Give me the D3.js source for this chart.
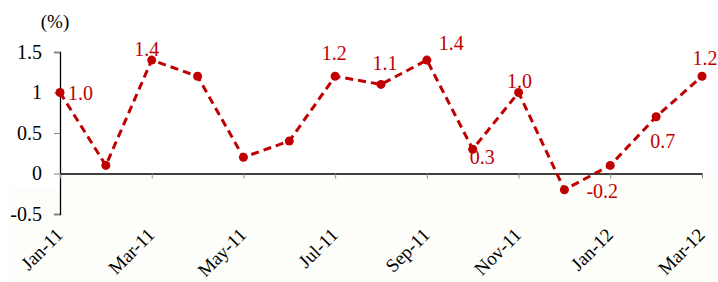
<!DOCTYPE html>
<html>
<head>
<meta charset="utf-8">
<script src="https://cdn.jsdelivr.net/npm/d3@7/dist/d3.min.js"></script>
<style>
  body { margin: 0; background: #fff; }
  text { font-family: "Liberation Serif", "Times New Roman", serif; }
</style>
</head>
<body>
<div class="canvas"></div>
<script>
const months = ['Jan-11', 'Feb-11', 'Mar-11', 'Apr-11', 'May-11', 'Jun-11', 'Jul-11',
    'Aug-11', 'Sep-11', 'Oct-11', 'Nov-11', 'Dec-11', 'Jan-12', 'Feb-12', 'Mar-12'];
const values = [1.0, 0.1, 1.4, 1.2, 0.2, 0.4, 1.2, 1.1, 1.4, 0.3, 1.0, -0.2, 0.1, 0.7, 1.2];
const yTicks = [-0.5, 0, 0.5, 1, 1.5];
const xTickLabels = ['Jan-11', 'Mar-11', 'May-11', 'Jul-11', 'Sep-11', 'Nov-11', 'Jan-12', 'Mar-12'];
const labelled = ['Jan-11', 'Mar-11', 'Jul-11', 'Aug-11', 'Sep-11', 'Oct-11', 'Nov-11', 'Dec-11', 'Feb-12', 'Mar-12'];

// label offsets from the point (layout only)
const labelOffset = {
    'Jan-11': [8, 7, 'start'],
    'Mar-11': [-5, -4, 'middle'],
    'Jul-11': [-1, -16, 'middle'],
    'Aug-11': [4, -14, 'middle'],
    'Sep-11': [12, -10, 'start'],
    'Oct-11': [-3, 15, 'start'],
    'Nov-11': [1, -5, 'middle'],
    'Dec-11': [22, 8, 'start'],
    'Feb-12': [-6, 31, 'start'],
    'Mar-12': [3, -11, 'middle']
};

const dims = { width: 718, height: 282 };
const red = '#c00000';

const svg = d3.select('.canvas')
    .append('svg')
    .attr('width', dims.width)
    .attr('height', dims.height)
;

const x = d3.scalePoint().domain(months).range([60, 702]);
const y = d3.scaleLinear().domain([-0.5, 1.5]).range([214, 52]);

// faint cream band at the bottom
svg.append('rect')
    .attr('x', x('Jan-11')).attr('y', y(0))
    .attr('width', 712 - x('Jan-11')).attr('height', dims.height - y(0))
    .attr('fill', '#fdfdf9');
svg.append('rect')
    .attr('x', 10).attr('y', 188)
    .attr('width', 702).attr('height', dims.height - 188)
    .attr('fill', '#fdfdf9');

// y axis
const yAxis = svg.append('g')
    .attr('transform', `translate(${x('Jan-11')}, 0)`)
    .call(d3.axisLeft(y).tickValues(yTicks).tickSize(6).tickPadding(12));
yAxis.select('.domain').attr('stroke', '#000').attr('stroke-width', 1.3);
yAxis.selectAll('.tick line').attr('stroke', '#888');
yAxis.selectAll('.tick text')
    .attr('font-size', 20)
    .attr('font-family', '"Liberation Serif", serif')
    .attr('fill', '#000')
    .text(d => d < 0 ? '-' + Math.abs(d) : d);

// x axis along zero
const xAxis = svg.append('g')
    .attr('transform', `translate(0, ${y(0)})`)
    .call(d3.axisBottom(x).tickValues(xTickLabels).tickSizeInner(5).tickSizeOuter(0).tickFormat(''));
xAxis.select('.domain').attr('stroke', '#000').attr('stroke-width', 1.3);
xAxis.selectAll('.tick line').attr('stroke', '#888');

svg.append('g')
    .selectAll('text')
    .data(xTickLabels)
    .enter()
    .append('text')
        .attr('transform', d => `translate(${x(d) + 4}, 236) rotate(-45)`)
        .attr('text-anchor', 'end')
        .attr('font-size', 19)
        .attr('fill', '#000')
        .text(d => d)
;

svg.append('text')
    .attr('x', 55).attr('y', 28)
    .attr('text-anchor', 'middle')
    .attr('font-size', 19)
    .text('(%)');

// dashed line
const line = d3.line()
    .x((d, i) => x(months[i]))
    .y(d => y(d));

svg.append('path')
    .datum(values)
    .attr('d', line)
    .attr('fill', 'none')
    .attr('stroke', red)
    .attr('stroke-width', 3)
    .attr('stroke-dasharray', '8,5');

svg.append('g')
    .selectAll('circle')
    .data(values)
    .enter()
    .append('circle')
        .attr('cx', (d, i) => x(months[i]))
        .attr('cy', d => y(d))
        .attr('r', 4.5)
        .attr('fill', red)
;

svg.append('g')
    .selectAll('text')
    .data(labelled)
    .enter()
    .append('text')
        .attr('x', m => x(m) + labelOffset[m][0])
        .attr('y', m => y(values[months.indexOf(m)]) + labelOffset[m][1])
        .attr('text-anchor', m => labelOffset[m][2])
        .attr('font-size', 20)
        .attr('fill', red)
        .text(m => d3.format('.1f')(values[months.indexOf(m)]).replace('−', '-'))
;
</script>
</body>
</html>
